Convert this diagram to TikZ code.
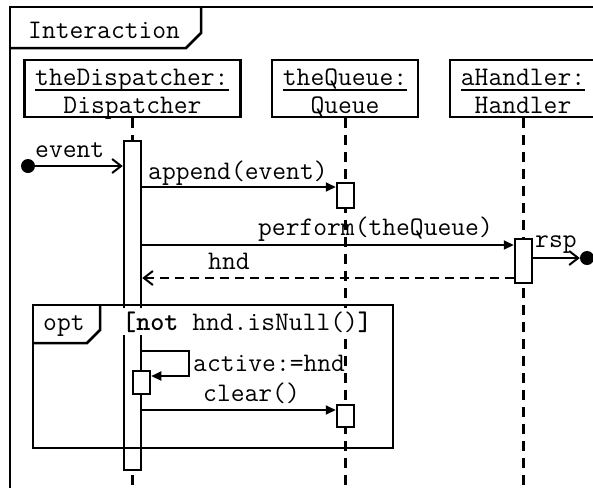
\documentclass[tikz,border=0pt]{standalone}
\usepackage{fontspec}
\usetikzlibrary{arrows.meta}
\usetikzlibrary{positioning}

\newcommand{\seqfont}{\ttfamily\fontsize{26.8}{32}\selectfont}

\tikzstyle{head_box} = [
    rectangle,
    draw=black,
    line width=2.5pt,
    minimum width=146pt,
    minimum height=57pt,
    inner sep=0pt
]
\tikzstyle{seq_text} = [
    font=\seqfont,
    inner sep=0pt,
    anchor=base west
]
\tikzstyle{life_line} = [
    line width=3pt,
    dash pattern=on 10pt off 7pt
]
\tikzstyle{act_bar} = [
    rectangle,
    draw=black,
    fill=white,
    line width=2.5pt,
    minimum width=17pt,
    inner sep=0pt
]
\tikzstyle{frame_line} = [
    line width=2.5pt
]
\tikzstyle{call_msg} = [
    line width=2pt,
    -{Triangle[length=10pt, width=9pt]}
]
\tikzstyle{async_msg} = [
    line width=2pt,
    -{Straight Barb[length=9pt, width=14pt, line width=2pt]}
]
\tikzstyle{reply_msg} = [
    line width=2pt,
    dash pattern=on 9pt off 6pt,
    -{Straight Barb[length=9pt, width=14pt, line width=2pt]}
]
\tikzstyle{end_dot} = [
    circle,
    fill=black,
    minimum size=14pt,
    inner sep=0pt
]

\begin{document}
\begin{tikzpicture}[x=1pt, y=-1pt]
\useasboundingbox (0,0) rectangle (593,488);

% interaction frame and its tab
\draw[frame_line] (593,7) -- (10,7) -- (10,488);
\draw[frame_line] (10,48) -- (186,48) -- (201,33) -- (201,7);
\node[seq_text] (frame_name) at (28,38) {Interaction};

% lifeline heads
\node[seq_text] (disp_obj) at (35,85) {theDispatcher:};
\node[seq_text, anchor=base] (disp_cls) at (132.5,113) {Dispatcher};
\draw[frame_line] ([yshift=-5pt]disp_obj.base west) -- ([yshift=-5pt]disp_obj.base east);
\node[head_box, minimum width=216pt] (disp_head) at (132.5,88.5) {};

\node[seq_text, anchor=base] (queue_obj) at (345,85) {theQueue:};
\node[seq_text, anchor=base] (queue_cls) at (345,113) {Queue};
\draw[frame_line] ([yshift=-5pt]queue_obj.base west) -- ([yshift=-5pt]queue_obj.base east);
\node[head_box] (queue_head) at (345,88.5) {};

\node[seq_text, anchor=base] (hdl_obj) at (523,85) {aHandler:};
\node[seq_text, anchor=base] (hdl_cls) at (523,113) {Handler};
\draw[frame_line] ([yshift=-5pt]hdl_obj.base west) -- ([yshift=-5pt]hdl_obj.base east);
\node[head_box] (hdl_head) at (523,88.5) {};

% lifelines
\coordinate (disp_end) at (132.5,488);
\coordinate (queue_end) at (345,488);
\coordinate (hdl_end) at (523,488);
\draw[life_line] (disp_head.south) -- (disp_end);
\draw[life_line] (queue_head.south) -- (queue_end);
\draw[life_line] (hdl_head.south) -- (hdl_end);

% activations
\node[act_bar, minimum height=329pt] (disp_bar) at (132.5,305.5) {};
\node[act_bar, minimum height=25pt] (queue_act1) at (345.5,195.5) {};
\node[act_bar, minimum height=44pt] (hdl_act) at (523.5,261) {};
\node[act_bar, minimum height=22pt] (queue_act2) at (345.5,416) {};

% incoming event
\node[end_dot] (event_src) at (28,166) {};
\draw[async_msg] (event_src) -- (disp_bar.west |- event_src);
\node[seq_text] (event_lbl) at (35,157) {event};

% append
\draw[call_msg] (disp_bar.east |- 0,187) -- (queue_act1.west |- 0,187);
\node[seq_text] (append_lbl) at (148,179) {append(event)};

% perform
\draw[call_msg] (disp_bar.east |- 0,245) -- (hdl_act.west |- 0,245);
\node[seq_text, anchor=base east] (perform_lbl) at (493,235) {perform(theQueue)};

% rsp out of the handler
\node[end_dot] (rsp_dst) at (587,258) {};
\draw[async_msg] (hdl_act.east |- rsp_dst) -- (rsp_dst.west);
\node[seq_text] (rsp_lbl) at (535,247) {rsp};

% reply
\draw[reply_msg] (hdl_act.west |- 0,278) -- (disp_bar.east |- 0,278);
\node[seq_text] (hnd_lbl) at (208,269) {hnd};

% opt fragment
\draw[frame_line] (33,305) rectangle (393,448);
\draw[frame_line] (33,343) -- (87,343) -- (100,330) -- (100,305);
\node[seq_text] (opt_lbl) at (43,330) {opt};
\node[seq_text, fill=white, inner sep=3pt] (guard_lbl) at (119,330)
    {\textbf{[not} hnd.isNull()\textbf{]}};

% self call
\node[act_bar, minimum height=23pt] (self_act) at (141.5,382.5) {};
\draw[call_msg] (disp_bar.east |- 0,351) -- (189,351) |- (self_act.east |- 0,376);
\node[seq_text] (active_lbl) at (193,371) {active:=hnd};

% clear
\draw[call_msg] (disp_bar.east |- 0,410) -- (queue_act2.west |- 0,410);
\node[seq_text] (clear_lbl) at (203,401) {clear()};
\end{tikzpicture}
\end{document}
